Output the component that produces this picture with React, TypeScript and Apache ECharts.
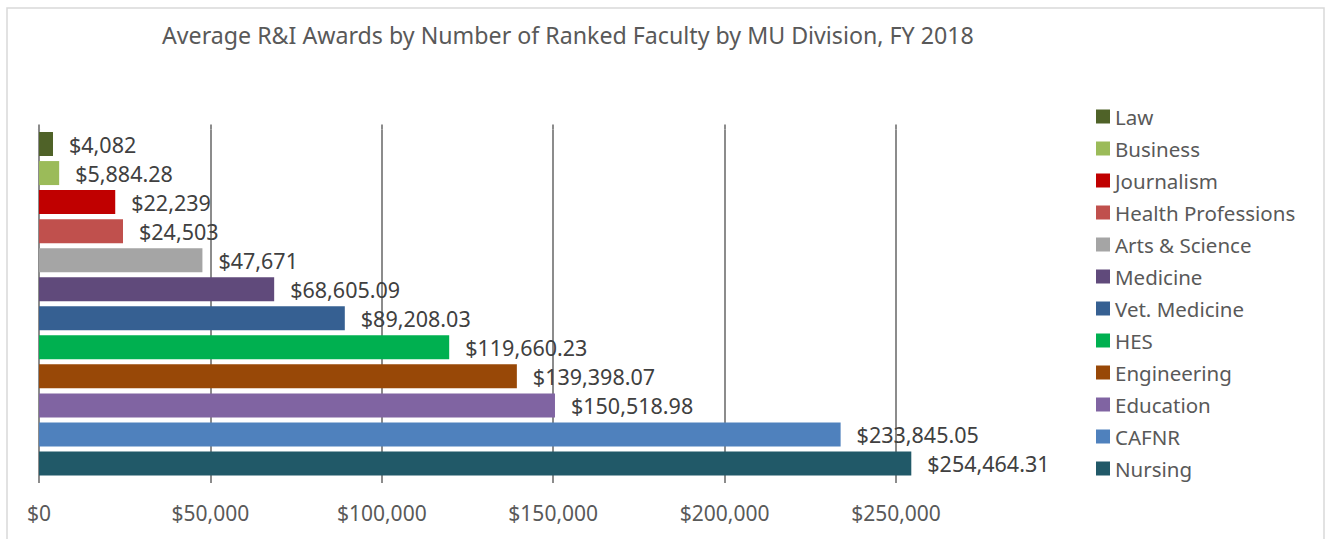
import React, { useEffect, useRef } from "react";
import * as echarts from "echarts";

const divisions = [
  "Law",
  "Business",
  "Journalism",
  "Health Professions",
  "Arts & Science",
  "Medicine",
  "Vet. Medicine",
  "HES",
  "Engineering",
  "Education",
  "CAFNR",
  "Nursing",
];
const awards = [
  4082, 5884.28, 22239, 24503, 47671, 68605.09, 89208.03, 119660.23, 139398.07,
  150518.98, 233845.05, 254464.31,
];
const colors = [
  "#4F6228",
  "#9BBB59",
  "#C00000",
  "#C0504D",
  "#A5A5A5",
  "#604A7B",
  "#366092",
  "#00B050",
  "#984807",
  "#8064A2",
  "#4F81BD",
  "#215968",
];
const xTicks = [0, 50000, 100000, 150000, 200000, 250000];
const title =
  "Average R&I Awards by Number of Ranked Faculty by MU Division, FY 2018";

const FONT = "'Noto Sans', 'Open Sans', sans-serif";

function fmtMoney(v: number): string {
  const isInt = Math.abs(v - Math.round(v)) < 1e-9;
  return (
    "$" +
    v.toLocaleString("en-US", {
      minimumFractionDigits: isInt ? 0 : 2,
      maximumFractionDigits: isInt ? 0 : 2,
    })
  );
}

export default function App() {
  const ref = useRef<HTMLDivElement>(null);
  useEffect(() => {
    if (!ref.current) return;
    const chart = echarts.init(ref.current, undefined, { renderer: "svg" });
    const series = divisions.map((name, i) => ({
      name,
      type: "bar",
      stack: "all",
      xAxisIndex: 0,
      barWidth: 24,
      clip: false,
      itemStyle: { color: colors[i] },
      label: {
        show: true,
        position: "right",
        distance: 16,
        color: "#404040",
        fontFamily: FONT,
        fontSize: 21.5,
        formatter: (p: any) => (p.value == null ? "" : fmtMoney(p.value)),
      },
      data: divisions.map((_, j) => (j === i ? awards[i] : null)),
    }));
    chart.setOption({
      animation: false,
      backgroundColor: "#ffffff",
      title: {
        text: title,
        left: 157,
        top: 18,
        textStyle: {
          fontFamily: FONT,
          fontSize: 23.2,
          fontWeight: "normal",
          color: "#595959",
        },
      },
      legend: {
        orient: "vertical",
        left: 1096,
        top: 106,
        padding: 0,
        itemWidth: 14,
        itemHeight: 14,
        itemGap: 11,
        icon: "rect",
        data: divisions,
        textStyle: {
          fontFamily: FONT,
          fontSize: 20.5,
          lineHeight: 18,
          color: "#595959",
        },
      },
      grid: { left: 39, right: 429, top: 129.5, bottom: 61 },
      xAxis: [
        {
          type: "value",
          position: "bottom",
          min: xTicks[0],
          max: xTicks[xTicks.length - 1],
          interval: xTicks[1] - xTicks[0],
          axisLine: { show: false },
          axisTick: {
            show: true,
            length: 5,
            lineStyle: { color: "#8c8c8c", width: 2 },
          },
          splitLine: { show: true, lineStyle: { color: "#8c8c8c", width: 2 } },
          axisLabel: {
            margin: 24,
            color: "#595959",
            fontFamily: FONT,
            fontSize: 21,
            formatter: (v: number) => fmtMoney(v),
          },
        },
        {
          type: "value",
          position: "top",
          min: xTicks[0],
          max: xTicks[xTicks.length - 1],
          interval: xTicks[1] - xTicks[0],
          axisLine: { show: false },
          axisTick: {
            show: true,
            length: 5,
            lineStyle: { color: "#8c8c8c", width: 2 },
          },
          splitLine: { show: false },
          axisLabel: { show: false },
        },
      ],
      yAxis: {
        type: "category",
        inverse: true,
        data: divisions,
        axisLine: { show: true, lineStyle: { color: "#8c8c8c", width: 2 } },
        axisTick: { show: false },
        axisLabel: { show: false },
      },
      graphic: [
        {
          type: "rect",
          shape: { x: 7, y: 8, width: 1317, height: 600 },
          style: { fill: "none", stroke: "#D9D9D9", lineWidth: 1.5 },
          silent: true,
          z: -1,
        },
      ],
      series,
    });
    return () => chart.dispose();
  }, []);
  return (
    <div
      ref={ref}
      style={{
        position: "fixed",
        left: 0,
        top: 0,
        width: 1325,
        height: 539,
        background: "#fff",
      }}
    />
  );
}
